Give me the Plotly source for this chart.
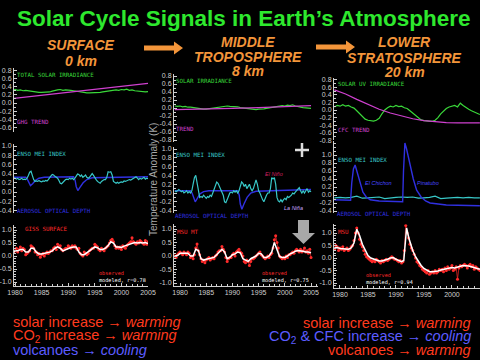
import plotly.graph_objects as go

W, H = 480, 360

# ---------------- DATA ----------------
years_tick = [1980, 1985, 1990, 1995, 2000, 2005]

# Row 1 (solar + trends), half-year samples from 1979.0
tsi_surface = [0.32, 0.30, 0.33, 0.31, 0.32, 0.30, 0.31, 0.30, 0.28, 0.27, 0.27, 0.26, 0.26, 0.26,
               0.26, 0.27, 0.29, 0.31, 0.32, 0.33, 0.31, 0.32, 0.32, 0.31, 0.30, 0.29, 0.27, 0.26,
               0.26, 0.25, 0.25, 0.25, 0.25, 0.25, 0.26, 0.27, 0.28, 0.29, 0.30, 0.31, 0.32, 0.31,
               0.33, 0.32, 0.34, 0.31, 0.32, 0.30, 0.29, 0.28, 0.28, 0.27, 0.28]
ghg_years = [1979, 2005]
ghg_trend = [0.10, 0.48]

solar_tropo = [0.05, 0.04, 0.05, 0.03, 0.04, 0.02, 0.02, 0.01, -0.01, -0.02, -0.02, -0.03, -0.03, -0.02,
               -0.02, -0.01, 0.00, 0.02, 0.03, 0.04, 0.05, 0.04, 0.04, 0.03, 0.03, 0.01, 0.00, -0.01,
               -0.02, -0.03, -0.04, -0.04, -0.03, -0.03, -0.02, -0.01, 0.00, 0.01, 0.03, 0.04, 0.05, 0.06,
               0.05, 0.07, 0.06, 0.08, 0.05, 0.03, 0.02, 0.01, 0.00, -0.01, -0.01]
trend_tropo_years = [1979, 1985, 1990, 1995, 2000, 2005]
trend_tropo = [-0.04, -0.03, -0.01, 0.01, 0.04, 0.06]

uv_strat = [0.08, 0.12, 0.10, 0.14, 0.10, 0.12, 0.08, 0.05, -0.02, -0.10, -0.18, -0.24, -0.27, -0.28,
            -0.29, -0.27, -0.22, -0.10, 0.00, 0.06, 0.10, 0.08, 0.12, 0.09, 0.10, 0.06, 0.04, -0.02,
            -0.08, -0.15, -0.22, -0.26, -0.28, -0.29, -0.30, -0.30, -0.27, -0.20, -0.10, -0.02, 0.04, 0.08,
            0.10, 0.12, 0.08, 0.18, 0.12, 0.06, 0.02, -0.02, -0.06, -0.10, -0.12]
cfc_years = [1979, 1981, 1983, 1985, 1987, 1989, 1991, 1993, 1995, 1997, 1999, 2001, 2003, 2005]
cfc_trend = [0.53, 0.42, 0.28, 0.14, 0.02, -0.08, -0.16, -0.23, -0.28, -0.31, -0.33, -0.34, -0.34, -0.34]

# Row 2 (ENSO + aerosol), ENSO quarterly from 1979.0
enso_surface = [0.30, 0.28, 0.30, 0.31, 0.30, 0.28, 0.30, 0.27, 0.28, 0.30, 0.27, 0.28,
                0.27, 0.30, 0.36, 0.43, 0.45, 0.35, 0.27, 0.23, 0.24, 0.23, 0.25, 0.23,
                0.22, 0.24, 0.23, 0.25, 0.24, 0.27, 0.32, 0.35, 0.38, 0.37, 0.34, 0.32,
                0.30, 0.25, 0.19, 0.18, 0.21, 0.25, 0.27, 0.28, 0.27, 0.30, 0.28, 0.30,
                0.27, 0.30, 0.34, 0.39, 0.38, 0.34, 0.37, 0.32, 0.34, 0.37, 0.32, 0.30,
                0.32, 0.37, 0.40, 0.36, 0.30, 0.27, 0.23, 0.21, 0.19, 0.23, 0.25, 0.27,
                0.27, 0.32, 0.44, 0.43, 0.44, 0.37, 0.23, 0.20, 0.19, 0.21, 0.19, 0.21,
                0.22, 0.21, 0.24, 0.23, 0.24, 0.25, 0.27, 0.26, 0.28, 0.30, 0.32, 0.33,
                0.30, 0.27, 0.30, 0.28, 0.30, 0.32, 0.28, 0.30, 0.29]
enso_tropo = [0.05, 0.03, 0.05, 0.08, 0.06, 0.03, 0.05, 0.00, 0.02, 0.05, 0.00, 0.03,
              0.00, 0.05, 0.20, 0.35, 0.40, 0.20, 0.00, -0.10, -0.08, -0.10, -0.05, -0.10,
              -0.12, -0.08, -0.10, -0.05, -0.08, 0.00, 0.10, 0.18, 0.25, 0.22, 0.15, 0.10,
              0.05, -0.05, -0.20, -0.22, -0.15, -0.05, 0.00, 0.02, 0.00, 0.05, 0.02, 0.05,
              0.00, 0.05, 0.15, 0.25, 0.22, 0.15, 0.20, 0.10, 0.15, 0.20, 0.10, 0.05,
              0.10, 0.20, 0.30, 0.20, 0.05, 0.00, -0.10, -0.15, -0.20, -0.10, -0.05, 0.00,
              0.00, 0.10, 0.35, 0.32, 0.35, 0.20, -0.10, -0.18, -0.20, -0.15, -0.20, -0.15,
              -0.12, -0.15, -0.08, -0.10, -0.08, -0.05, 0.00, -0.02, 0.02, 0.05, 0.10, 0.12,
              0.05, 0.00, 0.05, 0.00, 0.05, 0.10, 0.02, 0.05, 0.03]
enso_strat_years = list(range(1979, 2006))
enso_strat = [-0.07, -0.06, -0.07, -0.06, -0.03, -0.08, -0.07, -0.06, -0.05, -0.09, -0.07, -0.06, -0.05,
              -0.06, -0.05, -0.08, -0.07, -0.06, -0.03, -0.09, -0.08, -0.07, -0.06, -0.07, -0.06, -0.07, -0.07]

aod_years = [1979.0, 1982.0, 1982.3, 1982.6, 1982.9, 1983.3, 1983.8, 1984.5, 1985.5, 1991.0, 1991.3,
             1991.5, 1991.8, 1992.2, 1992.8, 1993.5, 1994.5, 2005.0]
aod_surface = [0.32, 0.32, 0.28, 0.20, 0.14, 0.18, 0.25, 0.30, 0.32, 0.33, 0.25, 0.12, 0.03, 0.10,
               0.20, 0.27, 0.31, 0.33]
aod_tropo = [0.05, 0.05, 0.00, -0.12, -0.20, -0.12, -0.02, 0.03, 0.05, 0.05, -0.05, -0.25, -0.37,
             -0.25, -0.10, 0.00, 0.04, 0.08]
aod_strat_years = [1979.0, 1981.9, 1982.1, 1982.4, 1982.7, 1983.1, 1983.6, 1984.1, 1984.7, 1985.4, 1987.0,
                   1991.2, 1991.35, 1991.6, 1991.9, 1992.2, 1992.6, 1993.1, 1993.7, 1994.5, 1995.3,
                   1996.1, 1999.0, 2005.0]
aod_strat = [-0.12, -0.13, 0.30, 0.65, 0.75, 0.55, 0.28, 0.07, -0.05, -0.12, -0.15, -0.17, 0.60, 1.30,
             1.15, 0.95, 0.75, 0.40, 0.12, -0.05, -0.15, -0.20, -0.25, -0.27]

# Row 3 observed (quarterly from 1979.0) and modeled (half-year)
obs_giss = [0.05, -0.05, 0.10, 0.15, 0.20, 0.30, 0.15, 0.25, 0.35, 0.20, 0.30, 0.25,
            0.05, 0.10, 0.15, 0.20, 0.40, 0.35, 0.30, 0.15, 0.15, 0.05, 0.10, -0.05,
            0.05, 0.10, 0.00, 0.10, 0.15, 0.10, 0.15, 0.20, 0.20, 0.30, 0.35, 0.25,
            0.45, 0.35, 0.40, 0.25, 0.20, 0.25, 0.30, 0.30, 0.40, 0.35, 0.30, 0.40,
            0.35, 0.40, 0.30, 0.25, 0.30, 0.10, 0.05, 0.00, 0.15, 0.10, 0.05, 0.10,
            0.20, 0.25, 0.30, 0.30, 0.45, 0.40, 0.35, 0.25, 0.20, 0.30, 0.25, 0.20,
            0.30, 0.35, 0.40, 0.50, 0.60, 0.65, 0.55, 0.40, 0.30, 0.35, 0.30, 0.35,
            0.25, 0.40, 0.35, 0.30, 0.40, 0.45, 0.50, 0.55, 0.70, 0.55, 0.50, 0.45,
            0.55, 0.50, 0.60, 0.55, 0.50, 0.45, 0.60, 0.45, 0.55]
mod_giss = [0.05, 0.10, 0.20, 0.20, 0.25, 0.25, 0.15, 0.15, 0.30, 0.30, 0.15, 0.08, 0.08, 0.10,
            0.12, 0.15, 0.20, 0.30, 0.35, 0.30, 0.20, 0.25, 0.30, 0.33, 0.35, 0.35, 0.15, 0.05,
            0.05, 0.12, 0.20, 0.25, 0.35, 0.32, 0.25, 0.25, 0.30, 0.40, 0.55, 0.50, 0.35, 0.35,
            0.33, 0.38, 0.42, 0.45, 0.50, 0.52, 0.50, 0.52, 0.50, 0.52, 0.48]

obs_mt = [0.00, -0.05, 0.05, 0.10, 0.15, 0.10, 0.05, 0.15, 0.10, 0.05, 0.15, 0.10,
          -0.05, 0.00, -0.10, 0.05, 0.30, 0.45, 0.20, 0.05, -0.10, -0.20, -0.15, -0.25,
          -0.15, -0.10, -0.05, -0.15, -0.10, -0.05, -0.10, 0.00, 0.05, 0.15, 0.20, 0.20,
          0.35, 0.25, 0.15, -0.05, -0.20, -0.10, -0.05, -0.05, 0.05, 0.10, 0.00, 0.15,
          0.20, 0.25, 0.15, 0.10, 0.00, -0.20, -0.25, -0.15, -0.20, -0.35, -0.20, -0.10,
          -0.10, -0.05, 0.00, 0.05, 0.10, 0.15, 0.05, 0.00, -0.05, -0.10, -0.05, 0.00,
          -0.05, 0.05, 0.10, 0.30, 0.60, 0.75, 0.50, 0.30, 0.00, -0.05, -0.10, -0.05,
          -0.10, 0.00, -0.05, 0.05, 0.05, 0.10, 0.15, 0.10, 0.20, 0.25, 0.20, 0.15,
          0.25, 0.15, 0.20, 0.30, 0.15, 0.20, 0.10, 0.25, -0.05]
mod_mt = [0.00, 0.02, 0.10, 0.10, 0.08, 0.10, 0.00, 0.00, 0.25, 0.20, -0.10, -0.15, -0.12, -0.10,
          -0.08, -0.05, 0.05, 0.15, 0.25, 0.15, -0.10, -0.05, 0.05, 0.08, 0.15, 0.12, -0.10, -0.15,
          -0.20, -0.10, -0.05, 0.00, 0.10, 0.08, -0.05, -0.05, 0.00, 0.15, 0.50, 0.25, -0.02, -0.05,
          -0.05, 0.00, 0.08, 0.12, 0.18, 0.20, 0.20, 0.18, 0.15, 0.15, 0.12]

obs_ls = [0.35, 0.50, 0.45, 0.30, 0.40, 0.35, 0.45, 0.30, 0.35, 0.40, 0.30, 0.35,
          0.45, 0.50, 0.70, 1.00, 1.20, 1.00, 0.75, 0.55, 0.45, 0.30, 0.15, 0.05,
          0.00, -0.05, -0.10, -0.15, -0.10, -0.15, -0.05, -0.10, -0.15, -0.20, -0.10, -0.15,
          -0.10, -0.05, -0.10, -0.05, 0.00, 0.05, 0.00, -0.05, -0.05, -0.10, -0.15, -0.10,
          -0.20, -0.15, 0.30, 1.30, 1.00, 0.80, 0.55, 0.40, 0.30, 0.15, 0.00, -0.15,
          -0.20, -0.30, -0.35, -0.45, -0.50, -0.55, -0.60, -0.50, -0.65, -0.60, -0.55, -0.60,
          -0.50, -0.60, -0.55, -0.45, -0.50, -0.45, -0.55, -0.40, -0.50, -0.35, -0.45, -0.40,
          -0.30, -0.50, -0.45, -0.35, -0.85, -0.40, -0.30, -0.35, -0.30, -0.25, -0.30, -0.40,
          -0.30, -0.25, -0.35, -0.30, -0.45, -0.35, -0.40, -0.45, -0.50]
mod_ls_years = [1979.0, 1979.5, 1980.0, 1980.5, 1981.0, 1981.5, 1982.0, 1982.5, 1983.0, 1983.5, 1984.0,
                1984.5, 1985.0, 1985.5, 1986.0, 1986.5, 1987.0, 1987.5, 1988.0, 1988.5, 1989.0, 1989.5,
                1990.0, 1990.5, 1991.0, 1991.4, 1991.9, 1992.3, 1992.7, 1993.0, 1993.5, 1994.0, 1994.5,
                1995.0, 1995.5, 1996.0, 1996.5, 1997.0, 1997.5, 1998.0, 1998.5, 1999.0, 1999.5, 2000.0,
                2000.5, 2001.0, 2001.5, 2002.0, 2002.5, 2003.0, 2003.5, 2004.0, 2004.5, 2005.0]
mod_ls = [0.40, 0.42, 0.38, 0.36, 0.37, 0.35, 0.40, 0.60, 1.15, 0.90, 0.55, 0.30, 0.10, 0.00, -0.05,
          -0.10, -0.12, -0.12, -0.10, -0.05, 0.00, 0.02, -0.05, -0.10, -0.15, -0.10, 1.20, 0.80, 0.50,
          0.30, 0.05, -0.15, -0.30, -0.42, -0.50, -0.55, -0.55, -0.55, -0.52, -0.48, -0.45, -0.42,
          -0.40, -0.38, -0.40, -0.38, -0.33, -0.30, -0.30, -0.32, -0.35, -0.40, -0.42, -0.45]

t_half = [1979 + 0.5 * i for i in range(53)]
t_quarter = [1979 + 0.25 * i for i in range(105)]

# ---------------- COLOURS ----------------
GREEN, MAG, CYAN, BLUE = "#3ad83a", "#d040d0", "#38c8c8", "#3030e0"
RED, WHITE, TICK = "#ff2a2a", "#ffffff", "#cfcfcf"

# ---------------- PANEL GEOMETRY (pixels) ----------------
colx = {0: (14, 148, [1979.8, 2005.0]),
        1: (174, 318, [1978.85, 2006.33]),
        2: (334, 480, [1978.93, 2005.02])}
rows = {  # (row, col): (y_top, y_bottom, range, tickvals)
    (0, 0): (68.2, 131.7, [-0.7, 0.85], [0.8, 0.6, 0.4, 0.2, 0.0, -0.2, -0.4, -0.6]),
    (0, 1): (74, 142, [-0.85, 0.85], [0.8, 0.6, 0.4, 0.2, 0.0, -0.2, -0.4, -0.6, -0.8]),
    (0, 2): (77.7, 140.4, [-0.8, 0.85], [0.8, 0.6, 0.4, 0.2, 0.0, -0.2, -0.4, -0.6, -0.8]),
    (1, 0): (143.7, 212.7, [-0.45, 1.05], [1.0, 0.8, 0.6, 0.4, 0.2, 0.0, -0.2, -0.4]),
    (1, 1): (146.8, 212.8, [-0.45, 1.05], [1.0, 0.8, 0.6, 0.4, 0.2, 0.0, -0.2, -0.4]),
    (1, 2): (141, 213, [-0.45, 1.35], [1.0, 0.8, 0.6, 0.4, 0.2, 0.0, -0.2, -0.4]),
    (2, 0): (225.1, 285.9, [-1.15, 1.19], [1.0, 0.5, 0.0, -0.5, -1.0]),
    (2, 1): (223.9, 286, [-1.11, 1.19], [1.0, 0.5, 0.0, -0.5, -1.0]),
    (2, 2): (224.25, 288, [-1.2, 1.35], [1.0, 0.5, 0.0, -0.5, -1.0]),
}

fig = go.Figure()
layout = dict(width=W, height=H, margin=dict(l=0, r=0, t=0, b=0, autoexpand=False),
              paper_bgcolor="black", plot_bgcolor="black", showlegend=False)

def ax_name(p):
    return "" if p == 1 else str(p)

for (r, c), (yt, yb, yr, tv) in rows.items():
    p = r * 3 + c + 1
    x0, x1, xr = colx[c]
    n = ax_name(p)
    xa = dict(domain=[x0 / W, x1 / W], range=xr, anchor="y" + n, showgrid=False, zeroline=False,
              automargin=False)
    if r == 2:
        xa.update(showline=True, linecolor=TICK, linewidth=1, ticks="inside", ticklen=3,
                  tickcolor=TICK, tickvals=years_tick, tickfont=dict(size=7, color=TICK, family="Liberation Sans"),
                  minor=dict(ticks="inside", ticklen=2, tickcolor=TICK, dtick=1, tick0=1980))
    else:
        xa.update(visible=False)
    ya = dict(domain=[1 - yb / H, 1 - yt / H], range=yr, anchor="x" + n, showgrid=False, zeroline=False,
              automargin=False,
              showline=True, linecolor=TICK, linewidth=1, ticks="inside", ticklen=3, tickcolor=TICK,
              tickvals=tv, ticktext=[f"{v:.1f}" for v in tv],
              tickfont=dict(size=7, color=TICK, family="Liberation Sans"),
              minor=dict(ticks="inside", ticklen=2, tickcolor=TICK, dtick=0.1, tick0=0))
    layout["xaxis" + n] = xa
    layout["yaxis" + n] = ya

def line(p, x, y, color, width=1.2):
    n = ax_name(p)
    fig.add_trace(go.Scatter(x=x, y=y, mode="lines", line=dict(color=color, width=width),
                             xaxis="x" + n, yaxis="y" + n, hoverinfo="skip"))

def observed(p, x, y):
    n = ax_name(p)
    fig.add_trace(go.Scatter(x=x, y=y, mode="lines+markers", line=dict(color=RED, width=0.7),
                             marker=dict(color=RED, size=3), xaxis="x" + n, yaxis="y" + n,
                             hoverinfo="skip"))

# Row 1
line(1, t_half[:len(tsi_surface)], tsi_surface, GREEN)
line(1, ghg_years, ghg_trend, MAG)
line(2, t_half[:len(solar_tropo)], solar_tropo, GREEN)
line(2, trend_tropo_years, trend_tropo, MAG)
line(3, t_half[:len(uv_strat)], uv_strat, GREEN)
line(3, cfc_years, cfc_trend, MAG)
# Row 2
line(4, aod_years, aod_surface, BLUE, 1.4)
line(4, t_quarter[:len(enso_surface)], enso_surface, CYAN)
line(5, aod_years, aod_tropo, BLUE, 1.4)
line(5, t_quarter[:len(enso_tropo)], enso_tropo, CYAN)
line(6, enso_strat_years, enso_strat, CYAN)
line(6, aod_strat_years, aod_strat, BLUE, 1.4)
# Row 3
observed(7, t_quarter[:len(obs_giss)], obs_giss)
line(7, t_half[:len(mod_giss)], mod_giss, WHITE, 1.5)
observed(8, t_quarter[:len(obs_mt)], obs_mt)
line(8, t_half[:len(mod_mt)], mod_mt, WHITE, 1.5)
observed(9, t_quarter[:len(obs_ls)], obs_ls)
line(9, mod_ls_years, mod_ls, WHITE, 1.5)

fig.update_layout(**layout)

# ---------------- TEXT ----------------
ann = []
def txt(x, y, s, color, size=7, family="DejaVu Sans Mono", xanchor="left", italic=False, bold=False, **kw):
    if italic:
        s = f"<i>{s}</i>"
    if bold:
        s = f"<b>{s}</b>"
    ann.append(dict(x=x / W, y=1 - y / H, xref="paper", yref="paper", text=s, showarrow=False,
                    xanchor=xanchor, yanchor="middle", borderpad=0,
                    font=dict(size=size, color=color, family=family), **kw))

txt(243, 18, "Solar Cycle Signals in Earth’s Atmosphere", "#2ee82e", 22.5, "Liberation Sans",
    xanchor="center", bold=True)
ORANGE = "#f3953a"
for (x, y, s) in [(81, 45, "SURFACE"), (81, 61, "0 km"), (248, 42, "MIDDLE"), (248, 57, "TROPOSPHERE"),
                  (248, 71, "8 km"), (404, 42, "LOWER"), (404, 58, "STRATOSPHERE"), (404, 72, "20 km")]:
    txt(x, y, s, ORANGE, 14, "Liberation Sans", xanchor="center", italic=True, bold=True)

LS = 5.8
txt(16, 75, "TOTAL SOLAR IRRADIANCE", GREEN, LS)
txt(16, 122, "GHG TREND", MAG, LS)
txt(175, 81, "SOLAR IRRADIANCE", GREEN, LS)
txt(175, 129, "TREND", MAG, LS)
txt(337, 84, "SOLAR UV IRRADIANCE", GREEN, LS)
txt(337, 130, "CFC TREND", MAG, LS)
txt(16, 154, "ENSO MEI INDEX", CYAN, LS)
txt(16, 211, "AEROSOL OPTICAL DEPTH", BLUE, LS)
txt(175, 155, "ENSO MEI INDEX", CYAN, LS)
txt(174, 216, "AEROSOL OPTICAL DEPTH", BLUE, LS)
txt(337, 160, "ENSO MEI INDEX", CYAN, LS)
txt(336, 214, "AEROSOL OPTICAL DEPTH", BLUE, LS)
txt(24, 229, "GISS SURFACE", RED, LS)
txt(176, 232, "MSU MT", RED, LS)
txt(337, 232, "MSU", RED, LS)
txt(264, 174, "El Niño", "#d02060", 5.5, "Liberation Sans", italic=True)
txt(283, 208, "La Niña", "#c8a8ff", 5.5, "Liberation Sans", italic=True)
txt(364, 183, "El Chichon", "#4848ff", 5.5, "Liberation Sans", italic=True)
txt(416, 183, "Pinatubo", "#4848ff", 5.5, "Liberation Sans", italic=True)
for (x, y, r) in [(98, 273, "0.78"), (261, 273, "0.75"), (365, 275, "0.94")]:
    txt(x, y, "observed", RED, 5.2)
    txt(x, y + 7, f"modeled, r={r}", WHITE, 5.2)

txt(153, 180, "Temperature Anomaly (K)", "#a8a8a8", 10, "Liberation Sans", xanchor="center",
    textangle=-90)

RB, BB = "#ff3a1e", "#5c5cff"
def rich(x, y, s, color, xanchor):
    ann.append(dict(x=x / W, y=1 - y / H, xref="paper", yref="paper", text=s, showarrow=False,
                    xanchor=xanchor, yanchor="middle", borderpad=0,
                    font=dict(size=14.5, family="Liberation Sans", color=color)))
rich(12, 322, "solar increase → <i>warming</i>", RB, "left")
rich(12, 336, "CO<sub>2</sub> increase → <i>warming</i>", RB, "left")
rich(12, 350, "volcanoes → <i>cooling</i>", BB, "left")
rich(472, 323, "solar increase → <i>warming</i>", RB, "right")
rich(472, 337, "CO<sub>2</sub> &amp; CFC increase → <i>cooling</i>", BB, "right")
rich(472, 350, "volcanoes → <i>warming</i>", RB, "right")

fig.update_layout(annotations=ann)

# ---------------- SHAPES (arrows, plus sign) ----------------
def P(x, y):
    return f"{x / W:.5f},{1 - y / H:.5f}"
shapes = []
for (xa0, xa1, ym) in [(144, 183, 48), (316, 355, 47)]:
    path = (f"M{P(xa0, ym - 2.5)} L{P(xa1 - 9, ym - 2.5)} L{P(xa1 - 9, ym - 6.5)} L{P(xa1, ym)} "
            f"L{P(xa1 - 9, ym + 6.5)} L{P(xa1 - 9, ym + 2.5)} L{P(xa0, ym + 2.5)} Z")
    shapes.append(dict(type="path", xref="paper", yref="paper", path=path,
                       fillcolor=ORANGE, line=dict(width=0)))
gpath = (f"M{P(298, 220)} L{P(309, 220)} L{P(309, 233)} L{P(315, 233)} L{P(303.5, 244)} "
         f"L{P(292, 233)} L{P(298, 233)} Z")
shapes.append(dict(type="path", xref="paper", yref="paper", path=gpath,
                   fillcolor="#a8a8a8", line=dict(width=0)))
shapes.append(dict(type="line", xref="paper", yref="paper", x0=295 / W, x1=309 / W,
                   y0=1 - 150 / H, y1=1 - 150 / H, line=dict(color="#dddddd", width=2.5)))
shapes.append(dict(type="line", xref="paper", yref="paper", x0=302 / W, x1=302 / W,
                   y0=1 - 143 / H, y1=1 - 157 / H, line=dict(color="#dddddd", width=2.5)))
fig.update_layout(shapes=shapes)

fig.write_html("out.html", config={"displayModeBar": False},
               post_script="var d=document.getElementById('{plot_id}');"
                           "d.style.position='fixed';d.style.left='0px';d.style.top='0px';"
                           "document.documentElement.style.margin='0';"
                           "document.body.style.margin='0';document.body.style.padding='0';"
                           "document.body.style.background='black';")
